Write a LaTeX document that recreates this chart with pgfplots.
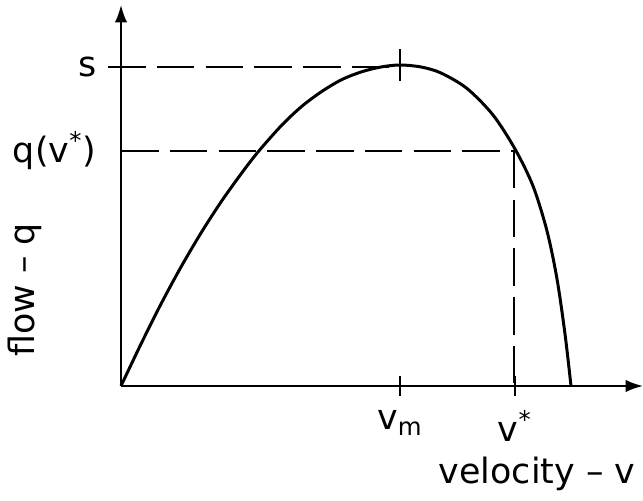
\documentclass[border=0pt]{standalone}
\usepackage{fontspec}
\setmainfont{DejaVu Sans}
\usepackage{pgfplots}
\pgfplotsset{compat=1.18}
\usetikzlibrary{arrows.meta}

% pixel-like data units: v = x-121, q = 386-y
\tikzset{
  tracejado/.style={black, line width=0.9pt, dash pattern=on 15bp off 4.5bp},
}

\begin{document}
\begin{tikzpicture}
\fontsize{14}{16}\selectfont
\begin{axis}[
    x=0.4bp, y=0.4bp,
    xmin=0, xmax=522, ymin=0, ymax=381,
    axis lines=left,
    axis line style={line width=0.8pt, -{Latex[length=7bp,width=5bp]}},
    clip=false,
    xtick={279,394},
    xticklabels={v\textsubscript{m}, \raisebox{3bp}{v\textsuperscript{*}}},
    ytick={235,319},
    yticklabels={q(v\textsuperscript{*}), s},
    tick align=center,
    xtick style={line width=0.8pt, black},
    ytick style={draw=none},
    major tick length=8bp,
    xticklabel style={yshift=-1bp},
    yticklabel style={xshift=-1bp},
    every tick label/.append style={font=\fontsize{14}{16}\selectfont},
    xlabel={velocity – v},
    xlabel style={at={(axis cs:416,-88)}, anchor=center},
    ylabel={flow – q},
    ylabel style={at={(axis cs:-96,96)}, anchor=center},
]
  % curva fluxo-velocidade
  \addplot[black, line width=1.2pt, smooth, tension=0.5] coordinates {
    (0,0) (20,42) (40,82) (60,119) (80,153) (100,184) (120,212) (137,234)
    (160,260) (180,279) (200,294) (220,306) (240,314) (260,319) (279,321)
    (300,319) (320,313) (346,297.5) (372,271) (394,237) (412,200) (426,155)
    (436,107) (444,52) (450,0)};
  % linhas tracejadas
  \addplot[tracejado] coordinates {(-13,319) (279,319)};
  \addplot[tracejado] coordinates {(0,235) (396,235)};
  \addplot[tracejado] coordinates {(393,235) (393,0)};
  % marca no pico
  \addplot[black, line width=0.8pt] coordinates {(279,305) (279,337)};
  \coordinate (bl) at (axis cs:-121,-115);
  \coordinate (tr) at (axis cs:522,386);
\end{axis}
\pgfresetboundingbox
\path[use as bounding box] (bl) rectangle (tr);
\end{tikzpicture}
\end{document}
